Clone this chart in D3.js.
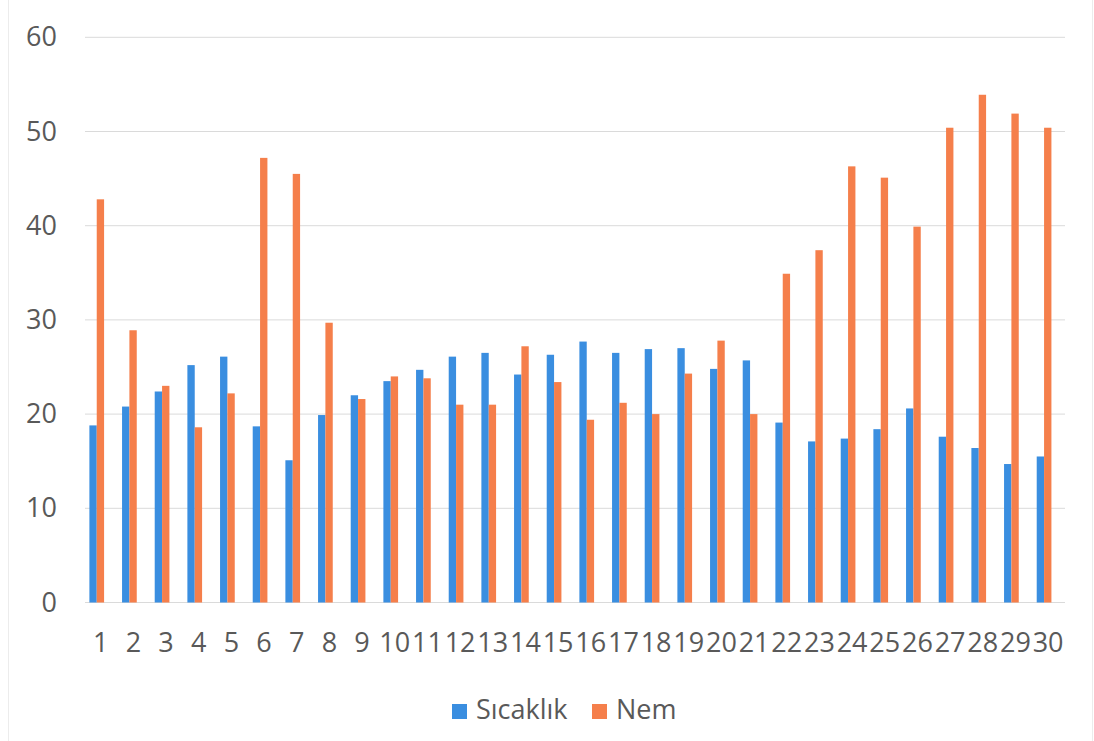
<!DOCTYPE html>
<html>
<head>
<meta charset="utf-8">
<script src="https://cdn.jsdelivr.net/npm/d3@7"></script>
<style>
  html, body { margin: 0; padding: 0; background: #fff; }
  svg { display: block; }
  text { font-family: "Open Sans", "Noto Sans", sans-serif; fill: #595959; }
</style>
</head>
<body>
<svg id="chart" width="1094" height="741"></svg>
<script>
// Daily readings, days 1–30
const days = d3.range(1, 31).map(String);
const sicaklik = [18.8, 20.8, 22.4, 25.2, 26.1, 18.7, 15.1, 19.9, 22.0, 23.5,
                  24.7, 26.1, 26.5, 24.2, 26.3, 27.7, 26.5, 26.9, 27.0, 24.8,
                  25.7, 19.1, 17.1, 17.4, 18.4, 20.6, 17.6, 16.4, 14.7, 15.5];
const nem      = [42.8, 28.9, 23.0, 18.6, 22.2, 47.2, 45.5, 29.7, 21.6, 24.0,
                  23.8, 21.0, 21.0, 27.2, 23.4, 19.4, 21.2, 20.0, 24.3, 27.8,
                  20.0, 34.9, 37.4, 46.3, 45.1, 39.9, 50.4, 53.9, 51.9, 50.4];
const yTicks = [0, 10, 20, 30, 40, 50, 60];
const seriesNames = ["Sıcaklık", "Nem"];
const seriesColors = ["#3a8ee0", "#f57f4b"];

const svg = d3.select("#chart");

// outer chart frame
svg.append("rect")
  .attr("x", 8.5).attr("y", -2).attr("width", 1084).attr("height", 745)
  .attr("fill", "none").attr("stroke", "#ececec");

const x = d3.scaleBand().domain(days).range([80.4, 1060.4]).paddingInner(0.55).paddingOuter(0.275);
const xs = d3.scaleBand().domain([0, 1]).range([0, x.bandwidth()]);
const y = d3.scaleLinear().domain([0, 60]).range([602.5, 37.3]);

// horizontal gridlines
svg.append("g")
  .selectAll("line")
  .data(yTicks)
  .join("line")
  .attr("x1", 85).attr("x2", 1065)
  .attr("y1", d => y(d)).attr("y2", d => y(d))
  .attr("stroke", "#dadada").attr("stroke-width", 1);

// y axis labels
const yAxis = d3.axisLeft(y).tickValues(yTicks).tickSize(0).tickPadding(0);
svg.append("g")
  .attr("transform", "translate(57,0)")
  .call(yAxis)
  .call(g => g.select(".domain").remove())
  .call(g => g.selectAll("text")
    .attr("font-size", 27)
    .attr("font-family", "'Open Sans', sans-serif")
    .attr("fill", "#595959"));

// bars
const rows = days.map((d, i) => ({ day: d, vals: [sicaklik[i], nem[i]] }));
const groups = svg.append("g")
  .selectAll("g")
  .data(rows)
  .join("g")
  .attr("transform", d => `translate(${x(d.day)},0)`);

groups.selectAll("rect")
  .data(d => d.vals.map((v, k) => ({ v, k })))
  .join("rect")
  .attr("x", d => xs(d.k))
  .attr("width", xs.bandwidth())
  .attr("y", d => y(d.v))
  .attr("height", d => y(0) - y(d.v))
  .attr("fill", d => seriesColors[d.k]);

// x axis labels
const xAxis = d3.axisBottom(x).tickSize(0).tickPadding(0);
svg.append("g")
  .attr("transform", "translate(4,633)")
  .call(xAxis)
  .call(g => g.select(".domain").remove())
  .call(g => g.selectAll("text")
    .attr("font-size", 27)
    .attr("font-family", "'Open Sans', sans-serif")
    .attr("fill", "#595959"));

// legend
const legend = svg.append("g").attr("transform", "translate(452,0)");
const legendX = [0, 140];
seriesNames.forEach((name, k) => {
  const g = legend.append("g").attr("transform", `translate(${legendX[k]},0)`);
  g.append("rect").attr("x", 0).attr("y", 704).attr("width", 15).attr("height", 15)
    .attr("fill", seriesColors[k]);
  g.append("text").attr("x", 24).attr("y", 719)
    .attr("font-size", 27).text(name);
});
</script>
</body>
</html>
